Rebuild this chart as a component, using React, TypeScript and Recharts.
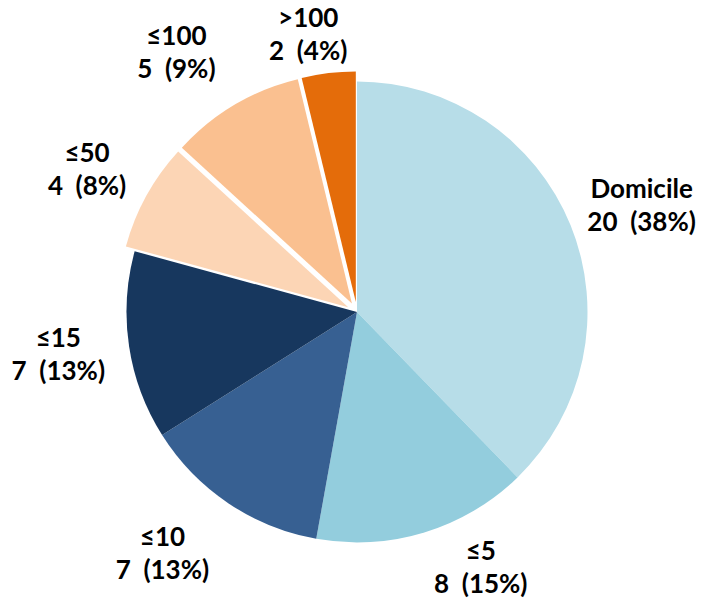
import React from 'react';
import { PieChart, Pie, Cell } from 'recharts';

const categories = ['Domicile', '≤5', '≤10', '≤15', '≤50', '≤100', '>100'];
const counts = [20, 8, 7, 7, 4, 5, 2];
const colors = ['#b7dde8', '#93cddd', '#376092', '#17375e', '#fcd5b5', '#fac090', '#e46c0a'];
const exploded = [false, false, false, false, true, true, true];

// label placement: angle tweak from the slice middle (deg), distance from centre (px)
const labelShift = [-3.1, 8.1, -3.9, 1.2, 2.6, 5.2, 3.5];
const labelDist = [301, 292, 317, 303, 301, 309, 273];

const W = 720;
const H = 610;
const CX = 357;
const CY = 312;
const R = 230.5;
const EXPLODE = 10;
const START = 90;
const HALF_GAP = 16.5;

const data = categories.map((name, i) => ({ name, value: counts[i] }));
const total = counts.reduce((a, b) => a + b, 0);

const midAngles = counts.map((v, i) => {
	const before = counts.slice(0, i).reduce((a, b) => a + b, 0);
	return START - ((before + v / 2) / total) * 360;
});

const RAD = Math.PI / 180;

const renderLabel = (props: any) => {
	const i = props.index;
	const a = (midAngles[i] + labelShift[i]) * RAD;
	const x = CX + labelDist[i] * Math.cos(a);
	const y = CY - labelDist[i] * Math.sin(a);
	const pct = Math.round((counts[i] / total) * 100);
	return (
		<text
			key={'lbl' + i}
			x={x}
			y={y - HALF_GAP}
			textAnchor="middle"
			fontFamily="Lato, 'Open Sans', sans-serif"
			fontWeight="bold"
			fontSize={26}
			fill="#000"
		>
			<tspan x={x} y={y - HALF_GAP}>{categories[i]}</tspan>
			<tspan x={x} y={y + HALF_GAP}>{`${counts[i]}\u00a0\u00a0(${pct}%)`}</tspan>
		</text>
	);
};

const App = () => {
	return (
		<div style={{ margin: -8 }}>
			<PieChart width={W} height={H} margin={{ top: 0, right: 0, bottom: 0, left: 0 }}>
				<Pie
					data={data}
					dataKey="value"
					nameKey="name"
					cx={CX}
					cy={CY}
					outerRadius={R}
					startAngle={START}
					endAngle={START - 360}
					stroke="none"
					label={renderLabel}
					labelLine={false}
					isAnimationActive={false}
				>
					{data.map((d, i) => (
						<Cell key={d.name} fill={exploded[i] ? 'none' : colors[i]} />
					))}
				</Pie>
				{data.map((d, i) =>
					exploded[i] ? (
						<Pie
							key={'ex' + d.name}
							data={data}
							dataKey="value"
							nameKey="name"
							cx={CX + EXPLODE * Math.cos(midAngles[i] * RAD)}
							cy={CY - EXPLODE * Math.sin(midAngles[i] * RAD)}
							outerRadius={R}
							startAngle={START}
							endAngle={START - 360}
							stroke="none"
							isAnimationActive={false}
						>
							{data.map((e, j) => (
								<Cell key={e.name} fill={j === i ? colors[j] : 'none'} />
							))}
						</Pie>
					) : null
				)}
			</PieChart>
		</div>
	);
};

export default App;
